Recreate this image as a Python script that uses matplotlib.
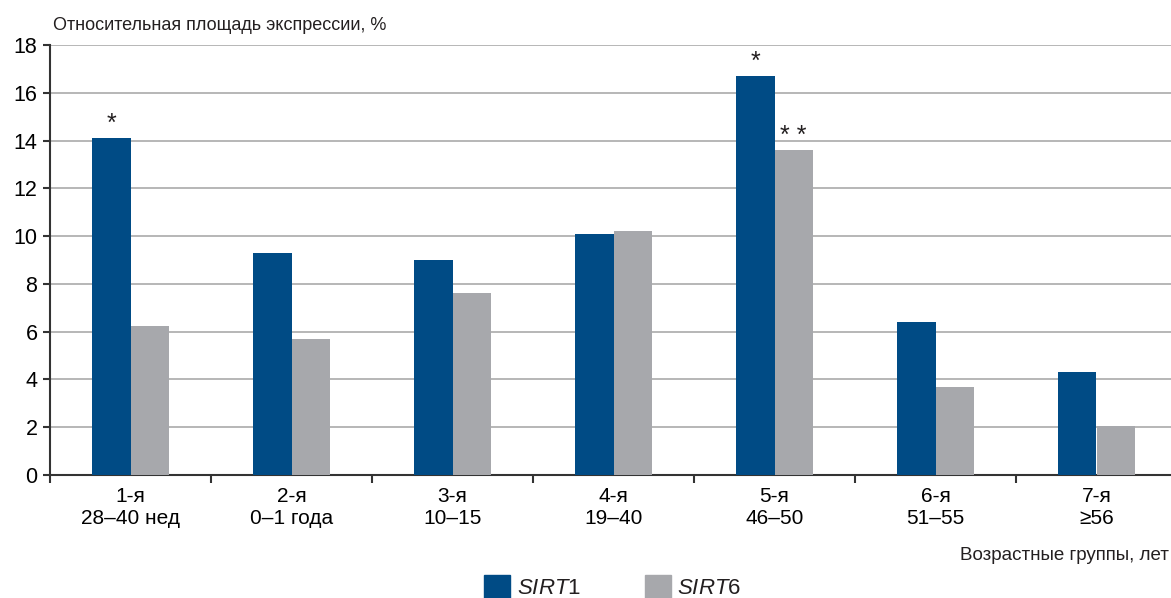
import numpy as np
import matplotlib
matplotlib.use("Agg")
import matplotlib.pyplot as plt
from matplotlib.patches import Patch

groups = ["1-я\n28–40 нед", "2-я\n0–1 года", "3-я\n10–15", "4-я\n19–40",
          "5-я\n46–50", "6-я\n51–55", "7-я\n≥56"]
sirt1 = [14.1, 9.3, 9.0, 10.1, 16.7, 6.4, 4.3]
sirt6 = [6.25, 5.7, 7.6, 10.2, 13.6, 3.7, 2.05]
marks1 = ["*", "", "", "", "*", "", ""]
marks6 = ["", "", "", "", "* *", "", ""]

BLUE = "#004b85"
GREY = "#a7a8ac"
TXT = "#231f20"

plt.rcParams.update({
    "font.family": ["Liberation Sans", "DejaVu Sans"],
    "mathtext.fontset": "custom",
    "mathtext.it": "Liberation Sans:italic",
    "mathtext.rm": "Liberation Sans",
    "text.color": TXT,
})

fig = plt.figure(figsize=(11.71, 5.98), dpi=100)
W, H = 1171, 598
ax = fig.add_axes([50 / W, 1 - 475 / H, 1127 / W, 430 / H])

x = np.arange(len(groups))
bw = 0.237
ax.bar(x - bw / 2, sirt1, bw, color=BLUE, zorder=3)
ax.bar(x + bw / 2, sirt6, bw, color=GREY, zorder=3)

for i, m in enumerate(marks1):
    if m:
        ax.text(x[i] - bw / 2, sirt1[i] + 0.1, m, ha="center", va="bottom", fontsize=18)
for i, m in enumerate(marks6):
    if m:
        ax.text(x[i] + bw / 2, sirt6[i] + 0.1, m, ha="center", va="bottom", fontsize=18)

ax.set_xlim(-0.5, len(groups) - 0.5)
ax.set_ylim(0, 18)
ax.set_yticks(range(0, 19, 2))
ax.yaxis.grid(True, color="#a3a3a3", lw=1.1, zorder=0)
ax.set_axisbelow(True)

ax.set_xticks(x)
ax.set_xticklabels(groups, fontsize=15, linespacing=1.2)
ax.set_xticks(np.arange(-0.5, len(groups), 1), minor=True)
ax.tick_params(axis="x", which="major", length=0, pad=9)
ax.tick_params(axis="x", which="minor", length=6, width=1.5, color="#333333", direction="out")
ax.tick_params(axis="y", length=5, width=1.5, color="#333333", labelsize=15.5, pad=4)

for s in ["top", "right"]:
    ax.spines[s].set_visible(False)
ax.spines["left"].set_linewidth(1.5)
ax.spines["bottom"].set_linewidth(1.5)
ax.spines["left"].set_color("#333333")
ax.spines["bottom"].set_color("#333333")

fig.text(53 / W, 1 - 25 / H, "Относительная площадь экспрессии, %",
         fontsize=13, va="center", ha="left")
fig.text(1169 / W, 1 - 555 / H, "Возрастные группы, лет",
         fontsize=13.5, va="center", ha="right")

handles = [Patch(color=BLUE), Patch(color=GREY)]
fig.legend(handles, [r"$\mathit{SIRT}$1", r"$\mathit{SIRT}$6"],
           loc="center", bbox_to_anchor=(613 / W, 1 - 587 / H), ncol=2,
           frameon=False, fontsize=16, handlelength=1.15, handleheight=1.3,
           columnspacing=2.9, handletextpad=0.3, borderpad=0.1)

fig.savefig("out.png", dpi=100, facecolor="white")
